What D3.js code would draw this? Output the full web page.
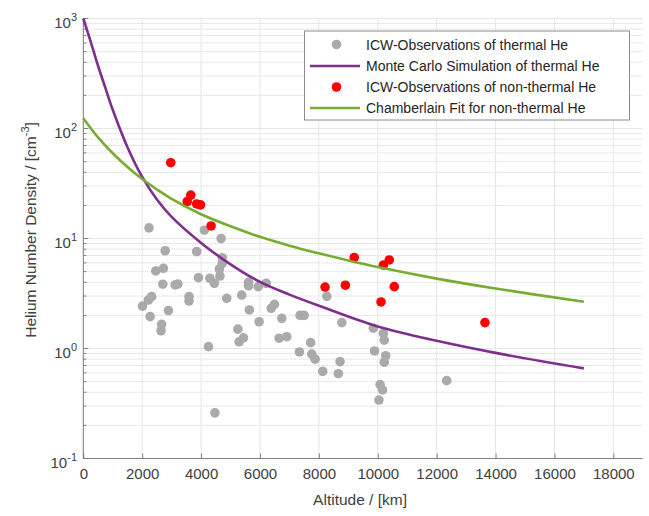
<!DOCTYPE html>
<html>
<head>
<meta charset="utf-8">
<script src="https://cdn.jsdelivr.net/npm/d3@7"></script>
<style>
  html, body { margin: 0; padding: 0; background: #fff; }
  svg { display: block; font-family: "Liberation Sans", Arial, sans-serif; }
</style>
</head>
<body>
<svg id="chart" width="649" height="516"></svg>
<script>
// ---------- data ----------
const thermalAlt = [2010,2210,2230,2270,2320,2460,2640,2660,2700,2720,2780,2890,3120,3210,3590,3590,3850,3910,4110,4250,4300,4450,4470,4620,4640,4680,4720,4720,4870,5250,5290,5380,5440,5610,5610,5640,5940,5970,6210,6380,6490,6650,6740,6910,7360,7500,7340,7720,7760,7870,8130,8270,8660,8720,8780,9850,9890,10190,10220,10270,10220,10080,10160,10040,12340];
const thermalDens = [2.43,2.76,12.5,1.95,2.96,5.07,1.45,1.66,3.84,5.36,7.74,2.21,3.78,3.86,2.96,2.70,7.59,4.40,11.9,1.04,4.35,3.92,0.26,5.28,4.56,10.0,6.69,5.95,2.86,1.50,1.15,3.06,1.25,4.00,3.72,2.24,3.65,1.75,3.92,2.32,2.52,1.24,1.88,1.28,2.00,2.00,0.93,1.13,0.89,0.80,0.62,2.98,0.59,0.76,1.72,1.53,0.95,1.37,1.19,0.86,0.75,0.47,0.42,0.34,0.51];

const nonThermalAlt = [2970,3530,3650,3850,3980,4340,8210,8900,9200,10110,10190,10390,10560,13640];
const nonThermalDens = [48.9,21.7,24.8,20.6,20.2,13.0,3.62,3.76,6.72,2.65,5.74,6.38,3.65,1.72];

const mcAlt  = [0,250,500,750,1000,1500,2000,2500,3000,4000,5000,6000,7000,8000,10000,12000,14000,17000];
const mcDens = [1000,617,372,234,148,67.6,36.3,22.6,15.7,9.12,5.82,4.03,3.09,2.45,1.585,1.175,0.912,0.66];

const chAlt  = [0,500,1000,1500,2000,2500,3000,4000,5000,6000,7000,8000,9000,10000,12000,14000,17000];
const chDens = [124,83,59.6,44.7,34.7,27.9,22.9,16.6,12.9,10.35,8.6,7.33,6.31,5.5,4.32,3.51,2.66];

const xTicks = [0,2000,4000,6000,8000,10000,12000,14000,16000,18000];
const yExponents = [-1,0,1,2,3];

const legendLabels = [
  "ICW-Observations of thermal He",
  "Monte Carlo Simulation of thermal He",
  "ICW-Observations of non-thermal He",
  "Chamberlain Fit for non-thermal He"
];

// ---------- setup ----------
const svg = d3.select("#chart");
const L = 83.3, R = 642.8, T = 18.5, B = 458.5;
const x = d3.scaleLinear().domain([0, 19000]).range([L, R]);
const y = d3.scaleLog().domain([0.1, 1000]).range([B, T]);

const cGray = "#aaaaaa", cRed = "#ff0000", cPurple = "#7e2f8e", cGreen = "#77ac30";
const textCol = "#404040", axisCol = "#808080";

// grid
const grid = svg.append("g");
for (let e = -1; e < 3; e++) {
  for (let m = 2; m <= 9; m++) {
    const v = m * Math.pow(10, e);
    grid.append("line").attr("x1", L).attr("x2", R).attr("y1", y(v)).attr("y2", y(v))
      .attr("stroke", "#d0d0d0").attr("stroke-width", 1).attr("stroke-dasharray", "1,1");
  }
}
yExponents.forEach(e => {
  const v = Math.pow(10, e);
  grid.append("line").attr("x1", L).attr("x2", R).attr("y1", y(v)).attr("y2", y(v))
    .attr("stroke", "#e6e6e6").attr("stroke-width", 1);
});
xTicks.forEach(t => {
  grid.append("line").attr("x1", x(t)).attr("x2", x(t)).attr("y1", T).attr("y2", B)
    .attr("stroke", "#e6e6e6").attr("stroke-width", 1);
});

// axes
const xAxis = d3.axisBottom(x).tickValues(xTicks).tickSize(-5).tickPadding(10).tickFormat(d3.format("d"));
const gx = svg.append("g").attr("transform", `translate(0,${B})`).call(xAxis);
gx.select(".domain").attr("stroke", axisCol).attr("d", `M${L},0H${R}`);
gx.selectAll(".tick line").attr("stroke", axisCol);
gx.selectAll(".tick text").attr("fill", textCol).attr("font-size", 15).attr("dy", "0.71em")
  .style("font-family", "'Liberation Sans', Arial, sans-serif");

const gy = svg.append("g");
gy.append("line").attr("x1", L).attr("x2", L).attr("y1", T).attr("y2", B).attr("stroke", axisCol);
for (let e = -1; e < 3; e++) {
  for (let m = 2; m <= 9; m++) {
    const v = m * Math.pow(10, e);
    gy.append("line").attr("x1", L).attr("x2", L + 3).attr("y1", y(v)).attr("y2", y(v)).attr("stroke", axisCol);
  }
}
yExponents.forEach(e => {
  const v = Math.pow(10, e);
  gy.append("line").attr("x1", L).attr("x2", L + 5).attr("y1", y(v)).attr("y2", y(v)).attr("stroke", axisCol);
  const t = gy.append("text").attr("x", 77).attr("y", y(v) + 9).attr("text-anchor", "end")
    .attr("fill", textCol).attr("font-size", 15);
  t.append("tspan").text("10");
  t.append("tspan").attr("dy", -7).attr("font-size", 11).text(String(e));
});

// axis labels
svg.append("text").attr("x", (L + R) / 2 - 3).attr("y", 505).attr("text-anchor", "middle")
  .attr("fill", textCol).attr("font-size", 15.5).text("Altitude / [km]");
const yl = svg.append("text").attr("transform", "translate(36,230) rotate(-90)")
  .attr("text-anchor", "middle").attr("fill", textCol).attr("font-size", 15.5);
yl.append("tspan").text("Helium Number Density / [cm");
yl.append("tspan").attr("dy", -7).attr("font-size", 11).text("-3");
yl.append("tspan").attr("dy", 7).text("]");

// data marks
const plot = svg.append("g");
const thermal = thermalAlt.map((a, i) => ({a, d: thermalDens[i]}));
const nonThermal = nonThermalAlt.map((a, i) => ({a, d: nonThermalDens[i]}));
const mc = mcAlt.map((a, i) => ({a, d: mcDens[i]}));
const ch = chAlt.map((a, i) => ({a, d: chDens[i]}));

plot.selectAll(".th").data(thermal).join("circle").attr("class", "th")
  .attr("cx", d => x(d.a)).attr("cy", d => y(d.d)).attr("r", 4.8).attr("fill", cGray);

const line = d3.line().x(d => x(d.a)).y(d => y(d.d)).curve(d3.curveCatmullRom.alpha(0.5));
plot.append("path").datum(mc).attr("d", line).attr("fill", "none").attr("stroke", cPurple).attr("stroke-width", 2.6);

plot.selectAll(".nt").data(nonThermal).join("circle").attr("class", "nt")
  .attr("cx", d => x(d.a)).attr("cy", d => y(d.d)).attr("r", 4.8).attr("fill", cRed);

plot.append("path").datum(ch).attr("d", line).attr("fill", "none").attr("stroke", cGreen).attr("stroke-width", 2.6);

// legend
const lg = svg.append("g");
lg.append("rect").attr("x", 304.5).attr("y", 31).attr("width", 325).attr("height", 89)
  .attr("fill", "#fff").attr("stroke", "#8c8c8c").attr("stroke-width", 1);
const rowsY = [44.5, 66, 87, 108];
const types = ["dot", "line", "dot", "line"];
const cols = [cGray, cPurple, cRed, cGreen];
legendLabels.forEach((lab, i) => {
  if (types[i] === "dot") {
    lg.append("circle").attr("cx", 336.5).attr("cy", rowsY[i]).attr("r", 4.8).attr("fill", cols[i]);
  } else {
    lg.append("line").attr("x1", 310).attr("x2", 360).attr("y1", rowsY[i]).attr("y2", rowsY[i])
      .attr("stroke", cols[i]).attr("stroke-width", 2.6);
  }
  lg.append("text").attr("x", 366).attr("y", rowsY[i] + 5).attr("fill", "#262626")
    .attr("font-size", 14).text(lab);
});
</script>
</body>
</html>
